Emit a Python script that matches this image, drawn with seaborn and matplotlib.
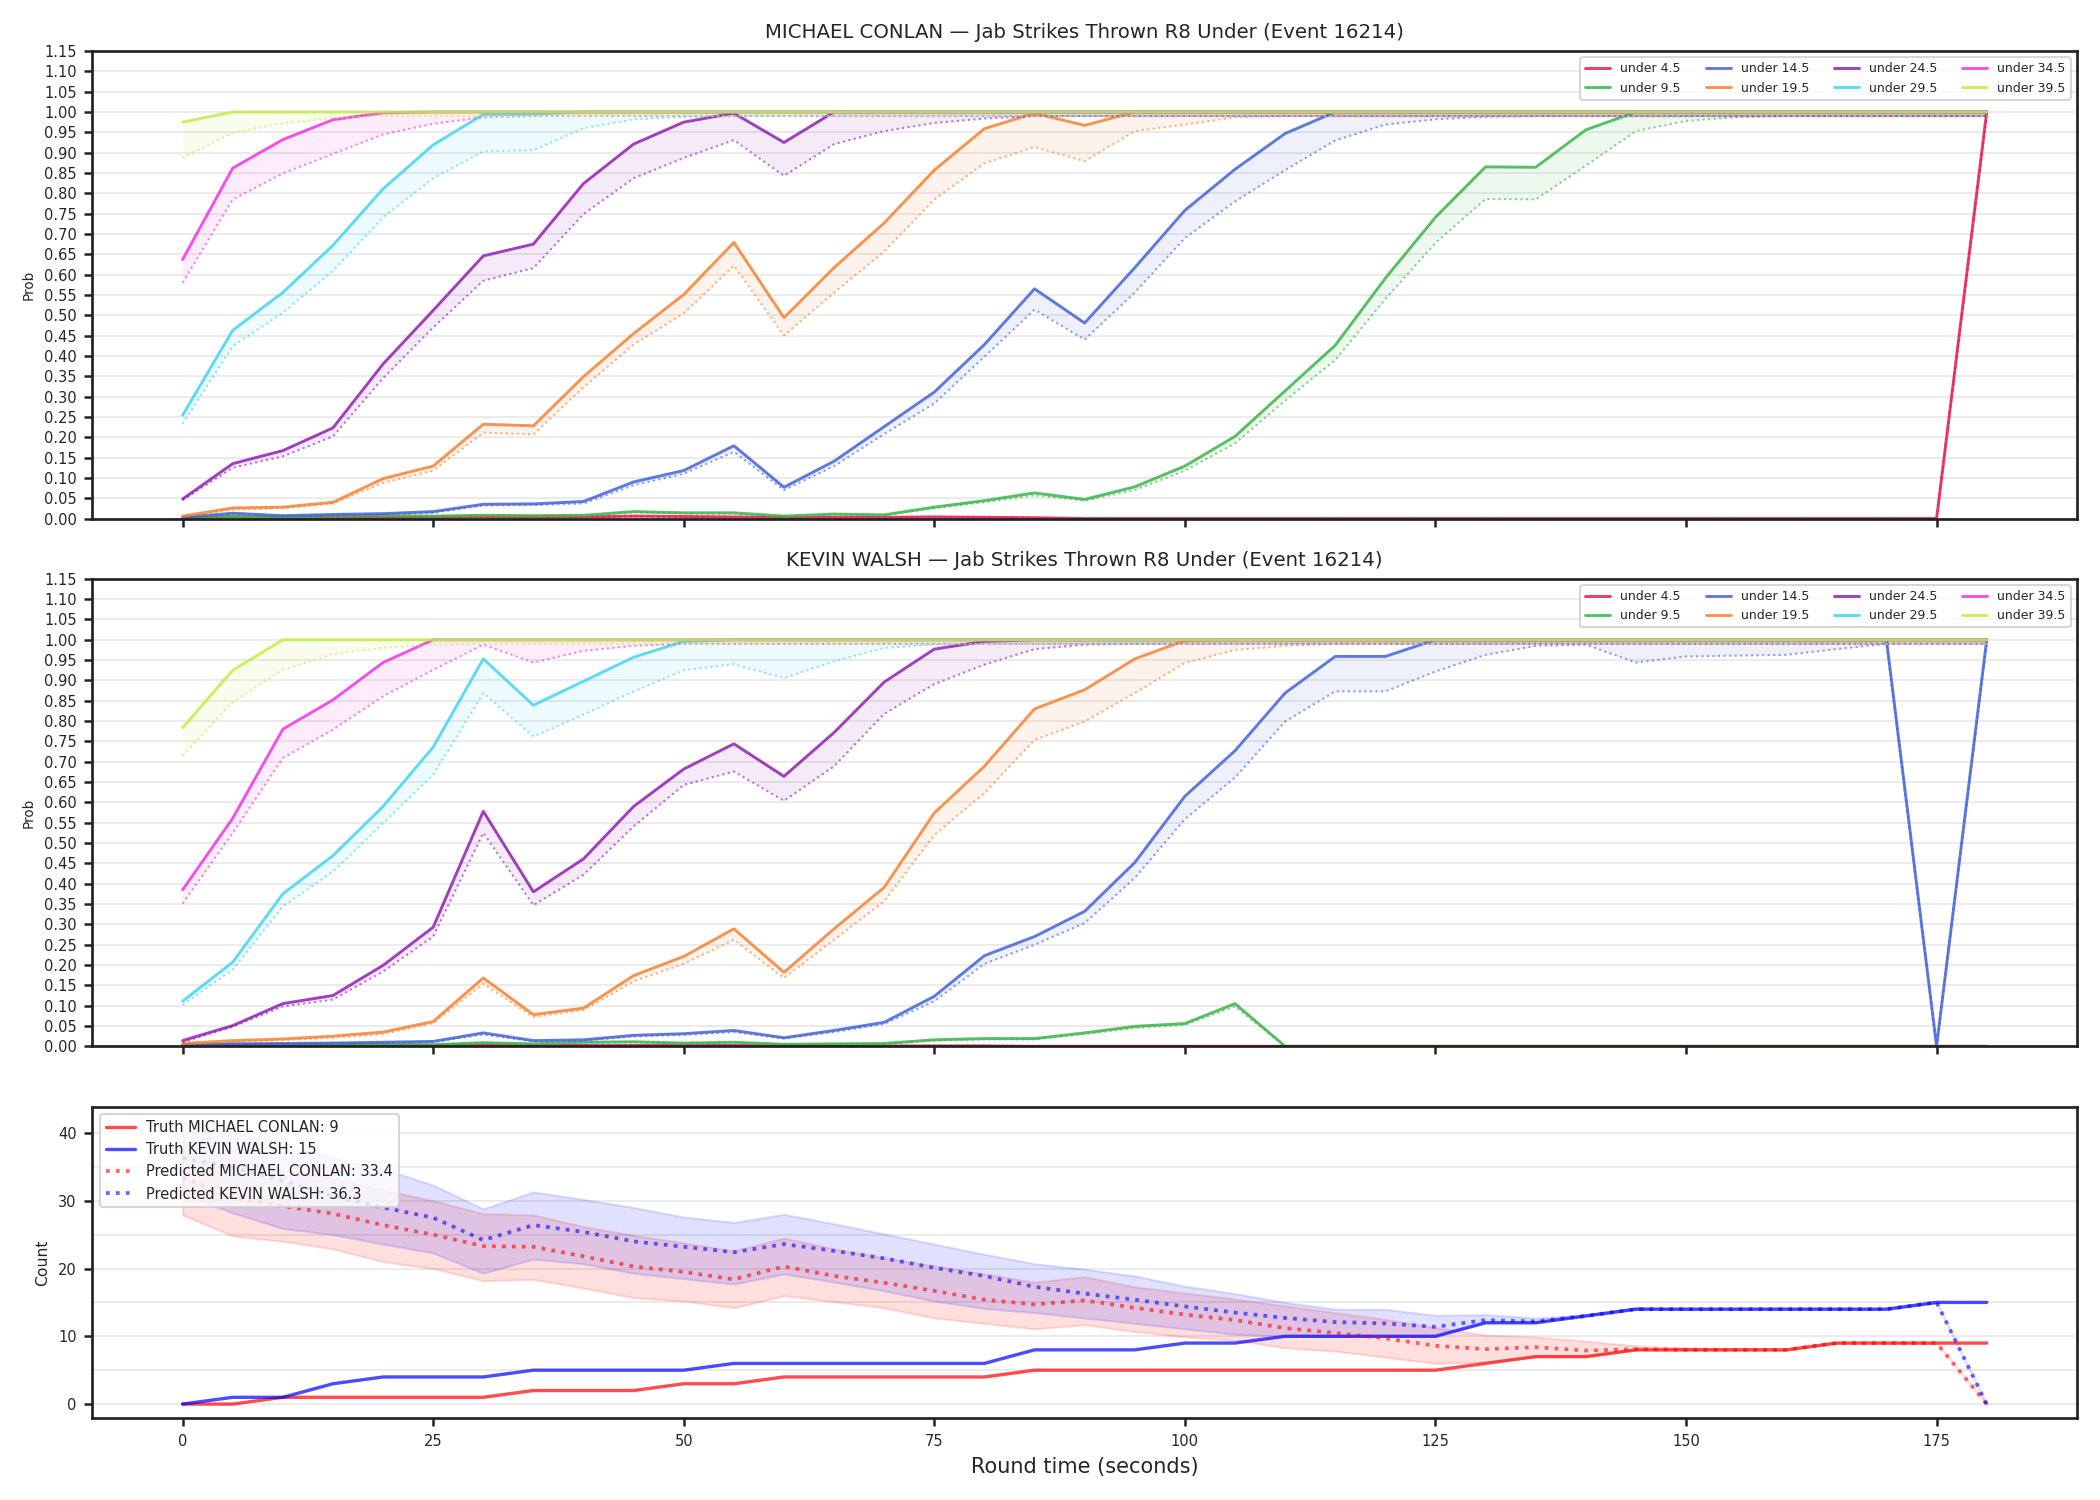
import numpy as np
import pandas as pd
import seaborn as sns
import matplotlib.pyplot as plt
from matplotlib.ticker import MultipleLocator

sns.set_style("ticks")
plt.rcParams['font.family'] = ['DejaVu Sans']

# round time in seconds (sample every 5s)
seconds = list(range(0, 181, 5))

lines = ['under 4.5', 'under 9.5', 'under 14.5', 'under 19.5',
         'under 24.5', 'under 29.5', 'under 34.5', 'under 39.5']
colors = ['#e6194b', '#3cb44b', '#4363d8', '#f58231',
          '#911eb4', '#42d4f4', '#f032e6', '#bfef45']

# MICHAEL CONLAN - upper (solid) and lower (dotted) probability per line
conlan_hi = {
    'under 4.5': [0.001, 0.004, 0.002, 0.003, 0.003, 0.003, 0.004, 0.004, 0.004, 0.006, 0.005, 0.004,
                  0.003, 0.003, 0.003, 0.004, 0.003, 0.002] + [0.0] * 18 + [1.0],
    'under 9.5': [0.002, 0.005, 0.004, 0.006, 0.007, 0.006, 0.008, 0.007, 0.008, 0.017, 0.014, 0.014,
                  0.006, 0.011, 0.009, 0.028, 0.044, 0.063, 0.047, 0.078, 0.129, 0.202, 0.314, 0.426,
                  0.591, 0.741, 0.865, 0.864, 0.956, 1.0] + [1.0] * 7,
    'under 14.5': [0.003, 0.013, 0.007, 0.010, 0.012, 0.017, 0.035, 0.036, 0.042, 0.090, 0.118, 0.179,
                   0.077, 0.141, 0.226, 0.311, 0.428, 0.565, 0.481, 0.617, 0.758, 0.859, 0.947, 1.0] + [1.0] * 13,
    'under 19.5': [0.006, 0.026, 0.028, 0.040, 0.098, 0.129, 0.232, 0.228, 0.349, 0.455, 0.551, 0.679,
                   0.494, 0.617, 0.727, 0.857, 0.959, 0.997, 0.967, 1.0] + [1.0] * 17,
    'under 24.5': [0.048, 0.135, 0.167, 0.223, 0.380, 0.512, 0.646, 0.675, 0.824, 0.921, 0.975, 0.997,
                   0.925, 1.0] + [1.0] * 23,
    'under 29.5': [0.254, 0.463, 0.556, 0.672, 0.811, 0.919, 0.994, 0.995] + [1.0] * 29,
    'under 34.5': [0.637, 0.862, 0.932, 0.981, 0.998] + [1.0] * 32,
    'under 39.5': [0.975] + [1.0] * 36,
}
conlan_lo = {
    'under 4.5': [0.001, 0.003, 0.002, 0.002, 0.002, 0.002, 0.003, 0.003, 0.003, 0.005, 0.004, 0.003,
                  0.002, 0.002, 0.002, 0.003, 0.002, 0.001] + [0.0] * 18 + [0.99],
    'under 9.5': [0.001, 0.004, 0.003, 0.005, 0.006, 0.005, 0.007, 0.006, 0.007, 0.015, 0.012, 0.012,
                  0.005, 0.009, 0.008, 0.025, 0.040, 0.057, 0.044, 0.070, 0.118, 0.185, 0.290, 0.390,
                  0.540, 0.678, 0.786, 0.785, 0.868, 0.953, 0.978, 0.987] + [0.99] * 5,
    'under 14.5': [0.002, 0.011, 0.006, 0.008, 0.010, 0.014, 0.032, 0.033, 0.037, 0.082, 0.110, 0.164,
                   0.070, 0.129, 0.208, 0.283, 0.398, 0.514, 0.440, 0.556, 0.690, 0.780, 0.857, 0.930,
                   0.969, 0.982, 0.988] + [0.99] * 10,
    'under 19.5': [0.004, 0.022, 0.025, 0.037, 0.088, 0.118, 0.211, 0.207, 0.323, 0.428, 0.505, 0.622,
                   0.450, 0.556, 0.657, 0.785, 0.874, 0.914, 0.879, 0.953, 0.969, 0.987] + [0.99] * 15,
    'under 24.5': [0.045, 0.125, 0.153, 0.202, 0.345, 0.470, 0.585, 0.616, 0.749, 0.837, 0.887, 0.931,
                   0.843, 0.921, 0.953, 0.973, 0.984] + [0.99] * 20,
    'under 29.5': [0.233, 0.424, 0.506, 0.609, 0.741, 0.837, 0.903, 0.906, 0.960, 0.982, 0.988] + [0.99] * 26,
    'under 34.5': [0.580, 0.785, 0.849, 0.897, 0.945, 0.971, 0.987] + [0.99] * 30,
    'under 39.5': [0.887, 0.949, 0.972, 0.985] + [0.99] * 33,
}

# KEVIN WALSH
walsh_hi = {
    'under 4.5': [0.001, 0.002, 0.002, 0.002, 0.002, 0.002, 0.003, 0.002, 0.002, 0.002, 0.002, 0.002,
                  0.001, 0.001, 0.001, 0.001, 0.001] + [0.0] * 20,
    'under 9.5': [0.003, 0.005, 0.004, 0.005, 0.005, 0.004, 0.009, 0.006, 0.010, 0.011, 0.008, 0.010,
                  0.005, 0.006, 0.007, 0.016, 0.019, 0.019, 0.033, 0.049, 0.056, 0.105] + [0.0] * 15,
    'under 14.5': [0.003, 0.006, 0.007, 0.008, 0.010, 0.012, 0.033, 0.014, 0.016, 0.027, 0.031, 0.039,
                   0.021, 0.039, 0.059, 0.123, 0.223, 0.270, 0.332, 0.452, 0.615, 0.727, 0.869, 0.959,
                   0.959, 1.0] + [1.0] * 9 + [0.0, 1.0],
    'under 19.5': [0.007, 0.014, 0.018, 0.025, 0.035, 0.061, 0.168, 0.078, 0.094, 0.174, 0.221, 0.289,
                   0.182, 0.289, 0.391, 0.574, 0.689, 0.830, 0.877, 0.953, 0.998] + [1.0] * 16,
    'under 24.5': [0.014, 0.051, 0.105, 0.125, 0.199, 0.293, 0.578, 0.380, 0.461, 0.590, 0.682, 0.744,
                   0.664, 0.772, 0.896, 0.977, 0.996] + [1.0] * 20,
    'under 29.5': [0.111, 0.207, 0.375, 0.469, 0.590, 0.736, 0.953, 0.839, 0.898, 0.957, 0.996] + [1.0] * 26,
    'under 34.5': [0.385, 0.561, 0.780, 0.852, 0.944] + [1.0] * 32,
    'under 39.5': [0.784, 0.925] + [1.0] * 35,
}
walsh_lo = {
    'under 4.5': [0.001] * 17 + [0.0] * 20,
    'under 9.5': [0.002, 0.004, 0.003, 0.004, 0.004, 0.003, 0.008, 0.005, 0.009, 0.010, 0.007, 0.009,
                  0.004, 0.005, 0.006, 0.014, 0.017, 0.017, 0.030, 0.045, 0.053, 0.098] + [0.0] * 15,
    'under 14.5': [0.002, 0.005, 0.006, 0.007, 0.009, 0.010, 0.029, 0.012, 0.014, 0.024, 0.028, 0.035,
                   0.019, 0.035, 0.055, 0.111, 0.203, 0.250, 0.303, 0.414, 0.559, 0.661, 0.799, 0.873,
                   0.873, 0.922, 0.963, 0.985, 0.988, 0.944, 0.959, 0.961, 0.963, 0.977, 0.990, 0.0, 0.99],
    'under 19.5': [0.005, 0.011, 0.015, 0.021, 0.030, 0.057, 0.154, 0.072, 0.089, 0.160, 0.203, 0.262,
                   0.168, 0.262, 0.357, 0.520, 0.623, 0.754, 0.799, 0.869, 0.943, 0.975, 0.985] + [0.99] * 14,
    'under 24.5': [0.010, 0.048, 0.098, 0.115, 0.184, 0.270, 0.525, 0.347, 0.422, 0.541, 0.643, 0.676,
                   0.604, 0.689, 0.818, 0.891, 0.939, 0.977, 0.988] + [0.99] * 18,
    'under 29.5': [0.102, 0.189, 0.344, 0.430, 0.549, 0.668, 0.869, 0.762, 0.816, 0.873, 0.925, 0.940,
                   0.906, 0.947, 0.980, 0.988] + [0.99] * 21,
    'under 34.5': [0.351, 0.525, 0.709, 0.779, 0.861, 0.926, 0.988, 0.944, 0.973, 0.985] + [0.99] * 27,
    'under 39.5': [0.715, 0.847, 0.926, 0.965, 0.980, 0.988] + [0.99] * 31,
}

# bottom panel: cumulative jab counts
truth_conlan = [0, 0, 1, 1, 1, 1, 1, 2, 2, 2, 3, 3, 4, 4, 4, 4, 4, 5, 5, 5, 5, 5, 5, 5, 5, 5,
                6, 7, 7, 8, 8, 8, 8, 9, 9, 9, 9]
truth_walsh = [0, 1, 1, 3, 4, 4, 4, 5, 5, 5, 5, 6, 6, 6, 6, 6, 6, 8, 8, 8, 9, 9, 10, 10, 10, 10,
               12, 12, 13, 14, 14, 14, 14, 14, 14, 15, 15]
pred_conlan = [33.4, 30.5, 29.2, 28.1, 26.4, 25.0, 23.3, 23.2, 21.8, 20.3, 19.5, 18.4, 20.3, 18.9,
               17.9, 16.7, 15.4, 14.7, 15.3, 14.2, 13.2, 12.4, 11.2, 10.5, 9.7, 8.6, 8.1, 8.4, 7.9,
               8.1, 8.0, 8.0, 8.0, 9.0, 9.0, 9.0, 0.0]
conlan_band_lo = [27.9, 24.8, 24.0, 22.9, 21.0, 20.0, 18.2, 18.4, 17.1, 15.7, 15.2, 14.2, 16.0, 15.1,
                  14.2, 12.7, 11.9, 11.1, 11.7, 10.7, 9.9, 9.4, 8.3, 7.8, 6.9, 6.0, 6.2, 7.0, 7.0,
                  8.0, 8.0, 8.0, 8.0, 9.0, 9.0, 9.0, 0.0]
conlan_band_hi = [38.6, 36.0, 34.5, 33.3, 31.6, 30.0, 28.1, 27.9, 26.2, 24.9, 23.8, 22.6, 24.5, 22.9,
                  21.6, 20.4, 19.2, 18.0, 18.8, 17.3, 16.4, 15.5, 14.5, 13.5, 12.5, 11.3, 10.2, 9.9,
                  9.3, 8.6, 8.3, 8.1, 8.0, 9.0, 9.0, 9.0, 0.0]
pred_walsh = [36.3, 34.9, 32.9, 30.7, 29.0, 27.5, 24.2, 26.4, 25.4, 24.0, 23.2, 22.4, 23.6, 22.6,
              21.5, 20.1, 18.9, 17.3, 16.3, 15.4, 14.4, 13.5, 12.7, 12.1, 11.9, 11.4, 12.4, 12.2,
              13.0, 14.0, 14.0, 14.0, 14.0, 14.0, 14.0, 15.0, 0.0]
walsh_band_lo = [31.0, 28.2, 25.9, 25.0, 23.6, 22.3, 19.3, 21.4, 20.7, 19.3, 18.5, 17.7, 19.2, 18.0,
                 16.7, 15.2, 14.1, 13.5, 12.7, 11.9, 11.1, 10.3, 10.0, 10.0, 10.0, 10.0, 12.0, 12.0,
                 13.0, 14.0, 14.0, 14.0, 14.0, 14.0, 14.0, 15.0, 0.0]
walsh_band_hi = [41.8, 40.1, 38.4, 36.4, 34.7, 32.3, 28.8, 31.3, 30.2, 29.0, 27.6, 26.8, 28.0, 26.6,
                 25.1, 23.6, 22.1, 20.7, 19.9, 18.9, 17.4, 16.3, 15.0, 14.0, 14.0, 13.1, 13.2, 12.7,
                 13.2, 14.2, 14.0, 14.0, 14.0, 14.0, 14.0, 15.0, 0.0]

fig = plt.figure(figsize=(14, 10), dpi=150)
gs = fig.add_gridspec(3, 1, height_ratios=[3, 3, 2], left=0.044, right=0.989,
                      top=0.966, bottom=0.0545, hspace=0.145)
ax1 = fig.add_subplot(gs[0])
ax2 = fig.add_subplot(gs[1], sharex=ax1)
ax3 = fig.add_subplot(gs[2], sharex=ax1)


def prob_panel(ax, hi, lo, title):
    for name, c in zip(lines, colors):
        ax.fill_between(seconds, lo[name], hi[name], color=c, alpha=0.09, lw=0)
        sns.lineplot(x=seconds, y=lo[name], ax=ax, color=c, lw=1.0, ls=':', alpha=0.6)
        sns.lineplot(x=seconds, y=hi[name], ax=ax, color=c, lw=1.4, alpha=0.85, label=name)
    ax.set_ylim(0, 1.15)
    ax.set_yticks(np.arange(0, 1.151, 0.05))
    ax.yaxis.set_major_formatter('{x:.2f}')
    ax.grid(axis='y', color='#b0b0b0', alpha=0.3, lw=0.8)
    ax.set_title(title, fontsize=9.5)
    ax.set_ylabel('Prob', fontsize=6.5)
    ax.tick_params(labelsize=7)
    ax.tick_params(axis='x', labelbottom=False)
    ax.legend(loc='upper right', ncol=4, fontsize=6, framealpha=0.8)


prob_panel(ax1, conlan_hi, conlan_lo, 'MICHAEL CONLAN — Jab Strikes Thrown R8 Under (Event 16214)')
prob_panel(ax2, walsh_hi, walsh_lo, 'KEVIN WALSH — Jab Strikes Thrown R8 Under (Event 16214)')

# bottom count panel
ax3.fill_between(seconds, conlan_band_lo, conlan_band_hi, color='red', alpha=0.13)
ax3.fill_between(seconds, walsh_band_lo, walsh_band_hi, color='blue', alpha=0.12)
sns.lineplot(x=seconds, y=truth_conlan, ax=ax3, color='red', lw=1.6, alpha=0.7,
             label='Truth MICHAEL CONLAN: 9')
sns.lineplot(x=seconds, y=truth_walsh, ax=ax3, color='blue', lw=1.6, alpha=0.7,
             label='Truth KEVIN WALSH: 15')
sns.lineplot(x=seconds, y=pred_conlan, ax=ax3, color='red', lw=1.8, ls=':', alpha=0.6,
             label='Predicted MICHAEL CONLAN: 33.4')
sns.lineplot(x=seconds, y=pred_walsh, ax=ax3, color='blue', lw=1.8, ls=':', alpha=0.6,
             label='Predicted KEVIN WALSH: 36.3')
ax3.yaxis.set_major_locator(MultipleLocator(10))
ax3.yaxis.set_minor_locator(MultipleLocator(5))
ax3.tick_params(axis='y', which='minor', length=0)
ax3.grid(axis='y', which='both', color='#b0b0b0', alpha=0.3, lw=0.8)
ax3.set_ylabel('Count', fontsize=7.5)
ax3.set_xlabel('Round time (seconds)', fontsize=10)
ax3.tick_params(labelsize=7)
ax3.legend(loc='upper left', fontsize=7, framealpha=0.8)
ax3.set_xlim(-9, 189)

for ax in (ax1, ax2, ax3):
    for s in ax.spines.values():
        s.set_visible(True)
        s.set_linewidth(1.3)
        s.set_color('#222222')
    ax.tick_params(which='major', width=1.2, length=4, color='#222222')

fig.savefig('out.png', dpi=150)
